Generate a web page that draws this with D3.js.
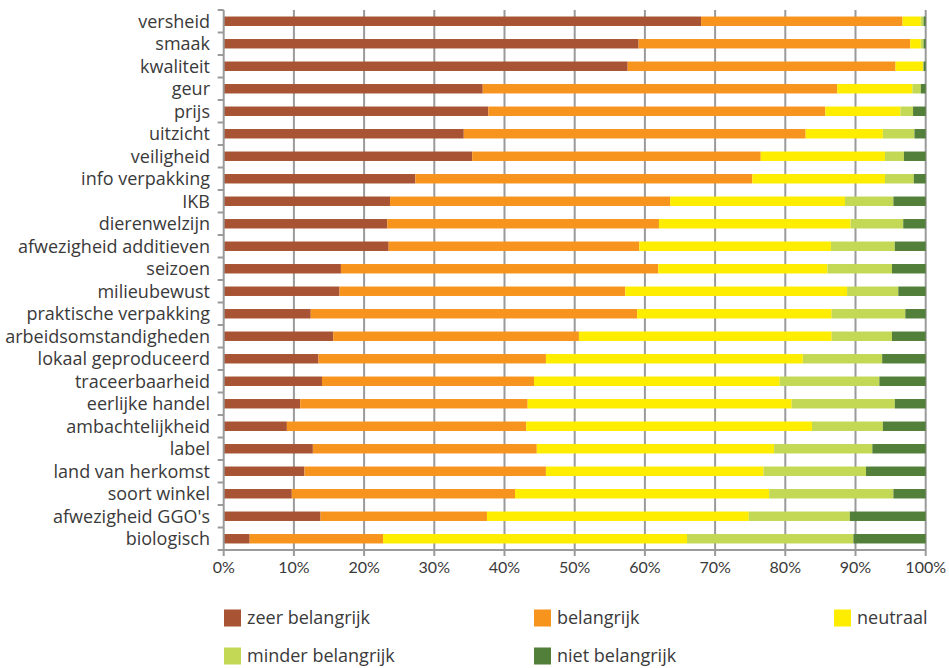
<!DOCTYPE html>
<html><head><meta charset="utf-8">
<script src="https://cdn.jsdelivr.net/npm/d3@7"></script>
<style>
html,body{margin:0;padding:0;background:#fff;}
svg{display:block;}
</style></head>
<body>
<script>
const categories = ["versheid","smaak","kwaliteit","geur","prijs","uitzicht","veiligheid","info verpakking","IKB","dierenwelzijn","afwezigheid additieven","seizoen","milieubewust","praktische verpakking","arbeidsomstandigheden","lokaal geproduceerd","traceerbaarheid","eerlijke handel","ambachtelijkheid","label","land van herkomst","soort winkel","afwezigheid GGO's","biologisch"];
const seriesNames = ["zeer belangrijk","belangrijk","neutraal","minder belangrijk","niet belangrijk"];
const zeerBelangrijk   = [68.0,59.1,57.6,36.9,37.7,34.2,35.4,27.3,23.7,23.3,23.5,16.7,16.5,12.4,15.6,13.5,14.0,10.9,9.0,12.7,11.5,9.7,13.8,3.7];
const belangrijk       = [28.7,38.7,38.2,50.5,48.0,48.7,41.1,48.0,39.9,38.7,35.7,45.2,40.7,46.5,35.0,32.4,30.2,32.4,34.1,31.9,34.4,31.8,23.7,19.0];
const neutraal         = [2.6,1.5,3.9,10.7,10.7,11.0,17.7,18.9,24.9,27.3,27.3,24.1,31.6,27.7,36.0,36.6,35.0,37.6,40.7,33.8,31.0,36.2,37.3,43.3];
const minderBelangrijk = [0.4,0.4,0.1,1.2,1.8,4.5,2.7,4.1,6.9,7.5,9.1,9.2,7.3,10.5,8.6,11.3,14.2,14.7,10.1,14.0,14.6,17.7,14.4,23.7];
const nietBelangrijk   = [0.3,0.3,0.3,0.7,1.8,1.6,3.1,1.7,4.6,3.2,4.4,4.8,3.9,2.9,4.8,6.2,6.6,4.4,6.1,7.6,8.5,4.6,10.8,10.3];
const tickValues = [0,10,20,30,40,50,60,70,80,90,100];
const colors = ["#A85434","#F7941E","#FFED00","#C3D955","#527F3A"];

const W = 949, H = 668;
const svg = d3.select("body").append("svg").attr("width", W).attr("height", H);
const x = d3.scaleLinear().domain([0,100]).range([223.7,925.7]);
const y = d3.scaleBand().domain(categories).range([10,550]).paddingInner(0.58).paddingOuter(0.29);
const step = y.step();
const grid = "#9a9a9a";
const labelFont = "'Open Sans', Lato, sans-serif";

const seriesArrays = [zeerBelangrijk, belangrijk, neutraal, minderBelangrijk, nietBelangrijk];
const rows = categories.map((c,i)=>{
  const o = {cat:c};
  seriesNames.forEach((s,k)=>{ o[s] = seriesArrays[k][i]; });
  return o;
});
const stack = d3.stack().keys(seriesNames).offset(d3.stackOffsetExpand)(rows);

// gridlines
svg.append("g").selectAll("line").data(tickValues.slice(1)).join("line")
  .attr("x1", d=>x(d)).attr("x2", d=>x(d)).attr("y1", 10).attr("y2", 550)
  .attr("stroke", grid).attr("stroke-width", 2);

// bars
svg.append("g").selectAll("g").data(stack).join("g")
  .attr("fill", (d,i)=>colors[i])
  .selectAll("rect").data(d=>d).join("rect")
  .attr("x", d=>x(d[0]*100))
  .attr("width", d=>Math.max(0, x(d[1]*100)-x(d[0]*100)))
  .attr("y", d=>y(d.data.cat))
  .attr("height", y.bandwidth());

// left axis
const yAx = svg.append("g");
yAx.append("line").attr("x1", x(0)).attr("x2", x(0)).attr("y1", 10).attr("y2", 550).attr("stroke", grid).attr("stroke-width", 2);
const bounds = d3.range(categories.length+1).map(i=>10+i*step);
yAx.selectAll("line.t").data(bounds).join("line").attr("class","t")
  .attr("x1", x(0)-6).attr("x2", x(0)).attr("y1", d=>d).attr("y2", d=>d)
  .attr("stroke", grid).attr("stroke-width", 2);
yAx.selectAll("text").data(categories).join("text")
  .attr("x", 210).attr("y", d=>y(d)+y.bandwidth()/2)
  .attr("dy", "0.35em").attr("text-anchor", "end")
  .attr("font-family", labelFont).attr("font-size", 18).attr("fill", "#3a3a3a")
  .text(d=>d);

// bottom axis
const xAx = svg.append("g");
xAx.append("line").attr("x1", x(0)).attr("x2", x(100)).attr("y1", 550).attr("y2", 550).attr("stroke", grid).attr("stroke-width", 2);
xAx.selectAll("line.t").data(tickValues).join("line").attr("class","t")
  .attr("x1", d=>x(d)).attr("x2", d=>x(d)).attr("y1", 550).attr("y2", 556)
  .attr("stroke", grid).attr("stroke-width", 2);
xAx.selectAll("text").data(tickValues).join("text")
  .attr("x", d=>x(d)).attr("y", 567).attr("dy","0.35em").attr("text-anchor","middle")
  .attr("font-family", "'Liberation Sans Narrow', Lato, sans-serif").attr("font-size", 16).attr("fill", "#3a3a3a")
  .text(d=>d+"%");

// legend
const legPos = [[224,618],[534,618],[834,618],[224,656],[534,656]];
const leg = svg.append("g").selectAll("g").data(seriesNames).join("g")
  .attr("transform", (d,i)=>`translate(${legPos[i][0]},${legPos[i][1]})`);
leg.append("rect").attr("x",0).attr("y",-8.5).attr("width",17).attr("height",17).attr("fill",(d,i)=>colors[i]);
leg.append("text").attr("x",23).attr("y",0).attr("dy","0.35em")
  .attr("font-family", labelFont).attr("font-size", 18).attr("fill", "#3a3a3a")
  .text(d=>d);
</script>
</body></html>
